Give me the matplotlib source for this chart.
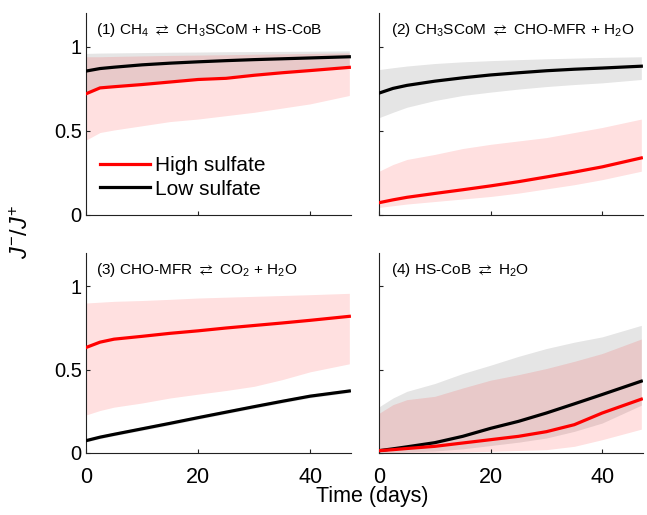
import matplotlib
matplotlib.use("Agg")
import matplotlib.pyplot as plt
import numpy as np

plt.rcParams['font.family'] = ['Liberation Sans', 'DejaVu Sans']
plt.rcParams['mathtext.fontset'] = 'custom'
plt.rcParams['mathtext.rm'] = 'Liberation Sans'
plt.rcParams['mathtext.it'] = 'Liberation Sans:italic'
plt.rcParams['mathtext.default'] = 'regular'
plt.rcParams['mathtext.fallback'] = 'stixsans'

days = [0, 2.5, 5, 10, 15, 20, 25, 30, 35, 40, 47]

titles = [
    r"(1) CH$_4$ $\rightleftarrows$ CH$_3$SCoM + HS-CoB",
    r"(2) CH$_3$SCoM $\rightleftarrows$ CHO-MFR + H$_2$O",
    r"(3) CHO-MFR $\rightleftarrows$ CO$_2$ + H$_2$O",
    r"(4) HS-CoB $\rightleftarrows$ H$_2$O",
]

# Panel 1
p1_high = [0.72, 0.755, 0.762, 0.775, 0.79, 0.805, 0.812, 0.83, 0.845, 0.858, 0.877]
p1_high_lo = [0.445, 0.49, 0.505, 0.53, 0.555, 0.57, 0.59, 0.61, 0.635, 0.66, 0.71]
p1_high_hi = [0.94, 0.94, 0.942, 0.945, 0.948, 0.95, 0.952, 0.955, 0.957, 0.96, 0.963]
p1_low = [0.855, 0.87, 0.878, 0.892, 0.902, 0.91, 0.917, 0.923, 0.928, 0.933, 0.94]
p1_low_lo = [0.73, 0.76, 0.77, 0.785, 0.80, 0.815, 0.825, 0.84, 0.855, 0.865, 0.88]
p1_low_hi = [0.96, 0.962, 0.963, 0.965, 0.967, 0.968, 0.97, 0.971, 0.972, 0.973, 0.975]

# Panel 2
p2_high = [0.073, 0.09, 0.105, 0.128, 0.15, 0.173, 0.198, 0.226, 0.255, 0.286, 0.339]
p2_high_lo = [0.045, 0.055, 0.065, 0.08, 0.095, 0.11, 0.13, 0.155, 0.18, 0.21, 0.26]
p2_high_hi = [0.26, 0.30, 0.33, 0.36, 0.395, 0.42, 0.44, 0.46, 0.49, 0.52, 0.57]
p2_low = [0.724, 0.752, 0.77, 0.795, 0.815, 0.832, 0.845, 0.857, 0.866, 0.873, 0.884]
p2_low_lo = [0.578, 0.61, 0.64, 0.68, 0.71, 0.73, 0.748, 0.763, 0.775, 0.785, 0.805]
p2_low_hi = [0.864, 0.875, 0.885, 0.9, 0.91, 0.917, 0.923, 0.928, 0.932, 0.936, 0.94]

# Panel 3
p3_high = [0.633, 0.665, 0.683, 0.70, 0.718, 0.733, 0.75, 0.765, 0.78, 0.796, 0.82]
p3_high_lo = [0.228, 0.255, 0.275, 0.30, 0.33, 0.353, 0.375, 0.40, 0.44, 0.487, 0.535]
p3_high_hi = [0.90, 0.905, 0.91, 0.915, 0.922, 0.93, 0.935, 0.94, 0.945, 0.95, 0.958]
p3_low = [0.074, 0.095, 0.112, 0.145, 0.178, 0.212, 0.245, 0.278, 0.31, 0.341, 0.372]
p3_low_lo = [0.066, 0.086, 0.103, 0.135, 0.168, 0.202, 0.235, 0.268, 0.30, 0.331, 0.362]
p3_low_hi = [0.084, 0.106, 0.124, 0.157, 0.19, 0.224, 0.257, 0.29, 0.322, 0.353, 0.384]

# Panel 4
p4_high = [0.014, 0.02, 0.027, 0.04, 0.06, 0.08, 0.10, 0.128, 0.17, 0.24, 0.323]
p4_high_lo = [0.0, 0.0, 0.0, 0.003, 0.006, 0.01, 0.015, 0.02, 0.04, 0.08, 0.143]
p4_high_hi = [0.238, 0.29, 0.32, 0.34, 0.39, 0.437, 0.47, 0.507, 0.55, 0.597, 0.684]
p4_low = [0.014, 0.025, 0.037, 0.062, 0.10, 0.148, 0.19, 0.24, 0.295, 0.351, 0.431]
p4_low_lo = [0.0, 0.003, 0.006, 0.012, 0.025, 0.045, 0.065, 0.09, 0.13, 0.18, 0.287]
p4_low_hi = [0.277, 0.33, 0.37, 0.417, 0.477, 0.527, 0.58, 0.627, 0.665, 0.697, 0.766]

panels = [
    (p1_high, p1_high_lo, p1_high_hi, p1_low, p1_low_lo, p1_low_hi),
    (p2_high, p2_high_lo, p2_high_hi, p2_low, p2_low_lo, p2_low_hi),
    (p3_high, p3_high_lo, p3_high_hi, p3_low, p3_low_lo, p3_low_hi),
    (p4_high, p4_high_lo, p4_high_hi, p4_low, p4_low_lo, p4_low_hi),
]

fig = plt.figure(figsize=(6.47, 5.15), dpi=100)
W, H = 647, 515
rects = [
    (86, 13, 351, 215),
    (379, 13, 643, 215),
    (86, 253, 351, 453),
    (379, 253, 643, 453),
]

for i, (rect, data, title) in enumerate(zip(rects, panels, titles)):
    x0, y0, x1, y1 = rect
    ax = fig.add_axes([x0 / W, 1 - y1 / H, (x1 - x0) / W, (y1 - y0) / H])
    hm, hl, hh, lm, ll, lh = data
    ax.fill_between(days, ll, lh, color='black', alpha=0.10, linewidth=0)
    ax.fill_between(days, hl, hh, color='red', alpha=0.12, linewidth=0)
    ax.plot(days, lm, color='black', lw=2.3, label='Low sulfate', zorder=3)
    ax.plot(days, hm, color='red', lw=2.3, label='High sulfate', zorder=4)
    ax.set_xlim(0, 47.3)
    ax.set_ylim(0, 1.2)
    ax.set_xticks([0, 20, 40])
    ax.set_yticks([0, 0.5, 1])
    ax.set_yticklabels(['0', '0.5', '1'])
    for s in ['top', 'right']:
        ax.spines[s].set_visible(False)
    for s in ['left', 'bottom']:
        ax.spines[s].set_linewidth(0.8)
        ax.spines[s].set_color('#222222')
    ax.tick_params(direction='in', length=3, width=0.8, color='#222222')
    ax.tick_params(axis='x', pad=10, labelsize=15.5)
    ax.tick_params(axis='y', pad=3, labelsize=14.5)
    if i in (0, 1):
        ax.tick_params(axis='x', labelbottom=False)
    if i in (1, 3):
        ax.tick_params(axis='y', labelleft=False)
    tx = 0.038 if i in (0, 2) else 0.044
    ax.text(tx, 0.895, title, transform=ax.transAxes, fontsize=11.1,
            ha='left', va='baseline')
    if i == 0:
        h, l = ax.get_legend_handles_labels()
        ax.legend(h[::-1], l[::-1], loc='center left', bbox_to_anchor=(0.053, 0.186),
                  frameon=False, fontsize=15, handlelength=2.4, handletextpad=0.25,
                  labelspacing=0.2, borderpad=0, borderaxespad=0)

fig.text(0.034, 0.55, r'$\mathit{J}^{-}/\mathit{J}^{+}$', rotation=90, fontsize=17,
         ha='center', va='center')
fig.text(0.576, 0.036, 'Time (days)', fontsize=15.5, ha='center', va='center')

fig.savefig('out.png', dpi=100)
